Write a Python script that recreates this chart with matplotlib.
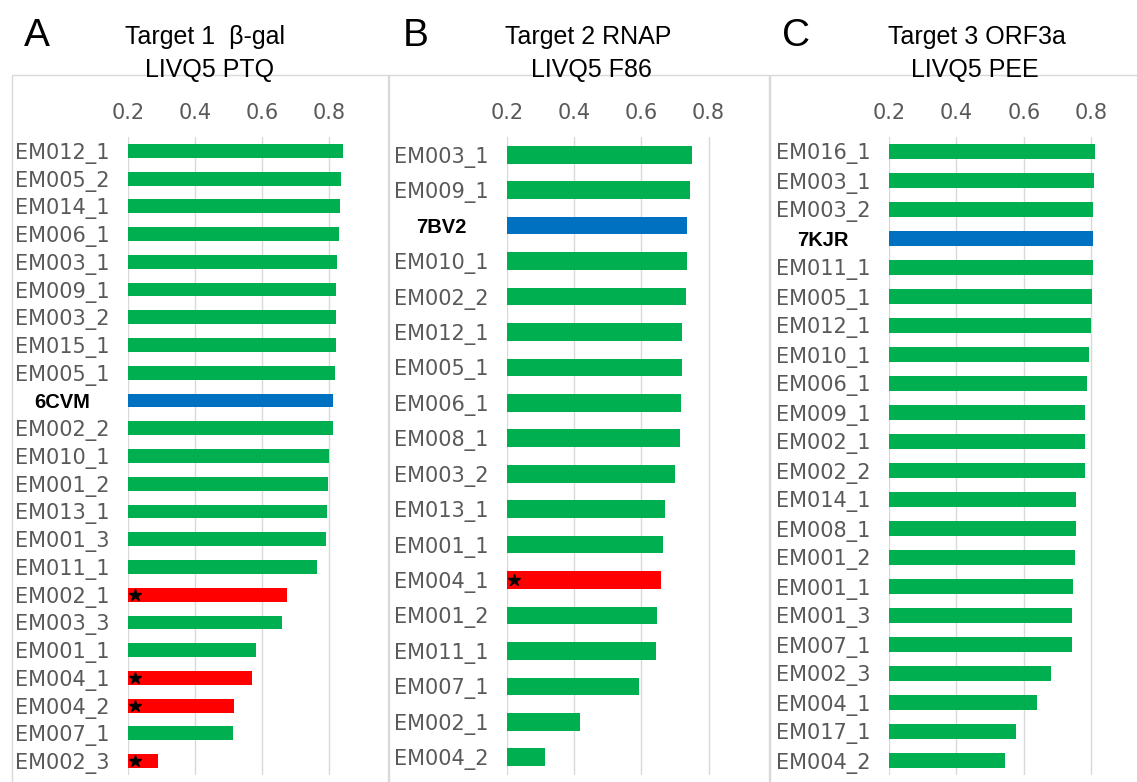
import matplotlib.pyplot as plt
from matplotlib.patches import Rectangle

W, H = 1137, 782

# panel A data (top to bottom)
labels_a = ["EM012_1", "EM005_2", "EM014_1", "EM006_1", "EM003_1", "EM009_1", "EM003_2",
            "EM015_1", "EM005_1", "6CVM", "EM002_2", "EM010_1", "EM001_2", "EM013_1",
            "EM001_3", "EM011_1", "EM002_1", "EM003_3", "EM001_1", "EM004_1", "EM004_2",
            "EM007_1", "EM002_3"]
values_a = [0.842, 0.836, 0.833, 0.829, 0.824, 0.821, 0.821, 0.821, 0.817, 0.811, 0.811,
            0.800, 0.797, 0.794, 0.790, 0.764, 0.675, 0.660, 0.582, 0.570, 0.517, 0.514, 0.290]
ref_a = "6CVM"
flag_a = ["EM002_1", "EM004_1", "EM004_2", "EM002_3"]

# panel B data
labels_b = ["EM003_1", "EM009_1", "7BV2", "EM010_1", "EM002_2", "EM012_1", "EM005_1",
            "EM006_1", "EM008_1", "EM003_2", "EM013_1", "EM001_1", "EM004_1", "EM001_2",
            "EM011_1", "EM007_1", "EM002_1", "EM004_2"]
values_b = [0.751, 0.745, 0.736, 0.736, 0.732, 0.720, 0.720, 0.717, 0.714, 0.700, 0.669,
            0.664, 0.658, 0.646, 0.643, 0.593, 0.417, 0.313]
ref_b = "7BV2"
flag_b = ["EM004_1"]

# panel C data
labels_c = ["EM016_1", "EM003_1", "EM003_2", "7KJR", "EM011_1", "EM005_1", "EM012_1",
            "EM010_1", "EM006_1", "EM009_1", "EM002_1", "EM002_2", "EM014_1", "EM008_1",
            "EM001_2", "EM001_1", "EM001_3", "EM007_1", "EM002_3", "EM004_1", "EM017_1",
            "EM004_2"]
values_c = [0.810, 0.807, 0.804, 0.804, 0.804, 0.801, 0.798, 0.792, 0.788, 0.783, 0.783,
            0.783, 0.755, 0.755, 0.752, 0.746, 0.743, 0.743, 0.680, 0.640, 0.577, 0.545]
ref_c = "7KJR"
flag_c = []

titles = [("Target 1  \u03b2-gal", "LIVQ5 PTQ"),
          ("Target 2 RNAP", "LIVQ5 F86"),
          ("Target 3 ORF3a", "LIVQ5 PEE")]
letters = ["A", "B", "C"]
xticks = [0.2, 0.4, 0.6, 0.8]

GREEN = "#00B050"
BLUE = "#0070C0"
RED = "#FF0000"
GRID = "#D9D9D9"
GRAY = "#595959"


def fx(px):
    return px / W


def fy(py):
    return 1 - py / H


fig = plt.figure(figsize=(W / 100, H / 100), dpi=100)
fig.patch.set_facecolor("white")

# layout in pixels: frame left/right, axis left (x=0.2), px per unit, title centers
panels = [
    dict(labels=labels_a, values=values_a, ref=ref_a, flag=flag_a,
         frame=(12, 389), ax_left=128, scale=335, tc=(205, 210), letter_x=24),
    dict(labels=labels_b, values=values_b, ref=ref_b, flag=flag_b,
         frame=(388, 769), ax_left=507, scale=336, tc=(588, 591), letter_x=403),
    dict(labels=labels_c, values=values_c, ref=ref_c, flag=flag_c,
         frame=(770, 1140), ax_left=889, scale=337, tc=(977, 975), letter_x=782),
]

xmin, xmax = 0.2, 0.9
ax_top, ax_bot = 137, 775

for i, p in enumerate(panels):
    # light frame around each panel
    l, r = p["frame"]
    fig.add_artist(Rectangle((fx(l), fy(H + 5)), fx(r - l), (H + 5 - 75) / H,
                             transform=fig.transFigure, fill=False,
                             edgecolor=GRID, lw=1.0))

    width_px = (xmax - xmin) * p["scale"]
    ax = fig.add_axes([fx(p["ax_left"]), fy(ax_bot), fx(width_px), (ax_bot - ax_top) / H])

    n = len(p["labels"])
    pos = list(range(n))
    colors = []
    for lab in p["labels"]:
        if lab == p["ref"]:
            colors.append(BLUE)
        elif lab in p["flag"]:
            colors.append(RED)
        else:
            colors.append(GREEN)
    ax.barh(pos, [v - xmin for v in p["values"]], left=xmin, height=0.5,
            color=colors, zorder=2)

    # stars on flagged bars
    for j, lab in enumerate(p["labels"]):
        if lab in p["flag"]:
            ax.plot(xmin + 0.022, j, marker="*", color="black", markersize=9, zorder=3)

    ax.set_xlim(xmin, xmax)
    ax.set_ylim(n - 0.5, -0.5)
    ax.set_xticks(xticks)
    ax.set_xticklabels([f"{t:.1f}" for t in xticks])
    ax.xaxis.tick_top()
    ax.tick_params(axis="x", length=0, pad=10, labelsize=15, labelcolor=GRAY)
    ax.grid(axis="x", color=GRID, lw=1.0, zorder=0)
    ax.set_axisbelow(True)

    ax.set_yticks(pos)
    ax.set_yticklabels(p["labels"])
    ax.tick_params(axis="y", length=0, pad=47.5, labelsize=15, labelcolor=GRAY)
    for tl in ax.get_yticklabels():
        tl.set_horizontalalignment("center")
        if tl.get_text() == p["ref"]:
            tl.set_fontweight("bold")
            tl.set_color("black")
            tl.set_fontfamily("Liberation Sans")
            tl.set_fontsize(14.5)

    for s in ax.spines.values():
        s.set_visible(False)
    ax.set_facecolor("none")

    # titles and panel letters
    t1, t2 = titles[i]
    fig.text(fx(p["tc"][0]), fy(44), t1, ha="center", va="baseline",
             fontsize=18, family="Liberation Sans")
    fig.text(fx(p["tc"][1]), fy(77), t2, ha="center", va="baseline",
             fontsize=18, family="Liberation Sans")
    fig.text(fx(p["letter_x"]), fy(46), letters[i], ha="left", va="baseline",
             fontsize=28, family="Liberation Sans")

fig.savefig("out.png", dpi=100, facecolor="white")
